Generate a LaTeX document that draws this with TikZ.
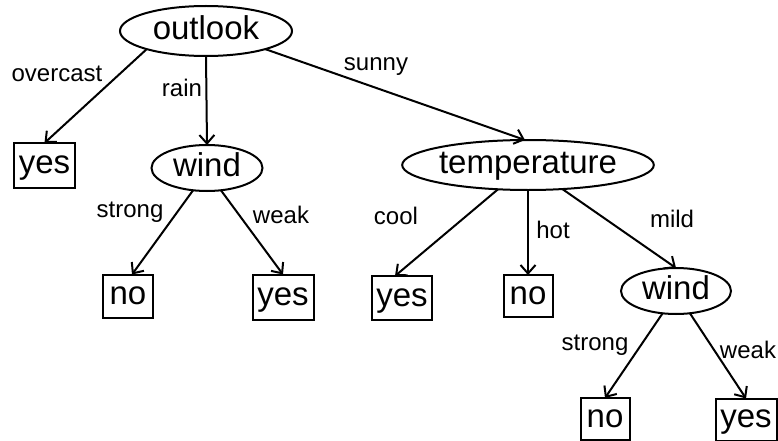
\documentclass[tikz,border=0pt]{standalone}
\usepackage{fontspec}
\setmainfont{Liberation Sans}
\usetikzlibrary{arrows.meta,shapes.geometric}
\begin{document}
\begin{tikzpicture}[x=1pt,y=-1pt,
  every node/.style={inner sep=0pt,outer sep=0pt},
  attr/.style={draw,ellipse,line width=2pt,font=\fontsize{33}{38}\selectfont,text height=23.5pt,text depth=7pt},
  leaf/.style={draw,rectangle,line width=2pt,font=\fontsize{33}{38}\selectfont,text height=23.5pt,text depth=7pt},
  lbl/.style={font=\fontsize{24}{28}\selectfont},
  edge/.style={line width=2pt,-{Straight Barb[length=8.5pt,width=15pt,line width=2pt]}}]
\useasboundingbox (0,0) rectangle (778,441);
% nodes
\node[attr,minimum width=172pt,minimum height=50pt] (outlook) at (206,31) {outlook};
\node[attr,minimum width=111pt,minimum height=46pt] (wind1) at (207,168) {wind};
\node[attr,minimum width=228pt,minimum height=50pt] (temp) at (528,165) {temperature};
\node[attr,minimum width=110pt,minimum height=46pt] (wind2) at (676,291) {wind};
\node[leaf,minimum width=61pt,minimum height=45pt] (yes1) at (44.5,165.5) {yes};
\node[leaf,minimum width=50pt,minimum height=43pt] (no1) at (128,296) {no};
\node[leaf,minimum width=61pt,minimum height=45pt] (yes2) at (283,297) {yes};
\node[leaf,minimum width=60pt,minimum height=44pt] (yes3) at (402,298) {yes};
\node[leaf,minimum width=49pt,minimum height=42pt] (no2) at (528,296) {no};
\node[leaf,minimum width=49pt,minimum height=42pt] (no3) at (605,419) {no};
\node[leaf,minimum width=61pt,minimum height=42pt] (yes4) at (746,419.5) {yes};
% edges
\draw[edge] (outlook.197) -- (yes1.north);
\draw[edge] (outlook.south) -- (wind1.north);
\draw[edge] (outlook.343) -- ([xshift=-3pt]temp.north);
\draw[edge] (wind1.238) -- ([xshift=4pt]no1.north);
\draw[edge] (wind1.302) -- (yes2.north);
\draw[edge] (temp.219) -- ([xshift=-7pt]yes3.north);
\draw[edge] (temp.south) -- (no2.north);
\draw[edge] (temp.325) -- (wind2.north);
\draw[edge] (wind2.239) -- (no3.north);
\draw[edge] (wind2.302) -- (yes4.north);
% labels
\node[lbl] (l1) at (57,74) {overcast};
\node[lbl] (l2) at (182,88) {rain};
\node[lbl] (l3) at (376,67) {sunny};
\node[lbl] (l4) at (130,212) {strong};
\node[lbl] (l5) at (281,215) {weak};
\node[lbl] (l6) at (396,216) {cool};
\node[lbl] (l7) at (553,230) {hot};
\node[lbl] (l8) at (672,219) {mild};
\node[lbl] (l9) at (595,345) {strong};
\node[lbl] (l10) at (748,350) {weak};
\end{tikzpicture}
\end{document}
